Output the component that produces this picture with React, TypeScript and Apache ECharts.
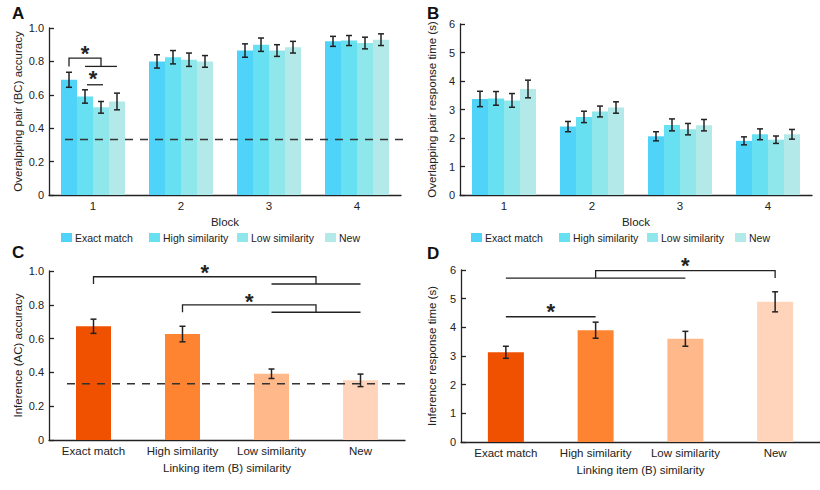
import React, { useEffect, useRef } from 'react';
import * as echarts from 'echarts';

const blocks = ['1', '2', '3', '4'];
const conditions = ['Exact match', 'High similarity', 'Low similarity', 'New'];
const blueColors = ['#4fd3f9', '#67e0f2', '#8fe7eb', '#b4e9e9'];
const orangeColors = ['#f05100', '#ff8432', '#ffb88a', '#ffd4ba'];
const chanceLevel = 0.333;

// Panel A: overlapping pair (BC) accuracy, per condition across blocks
const accExact = [0.69, 0.80, 0.865, 0.92];
const accHigh = [0.59, 0.825, 0.90, 0.925];
const accLow = [0.525, 0.81, 0.865, 0.91];
const accNew = [0.56, 0.80, 0.885, 0.93];
const accErrExact = [0.045, 0.04, 0.04, 0.03];
const accErrHigh = [0.04, 0.04, 0.04, 0.03];
const accErrLow = [0.035, 0.04, 0.035, 0.035];
const accErrNew = [0.05, 0.035, 0.035, 0.035];

// Panel B: overlapping pair response time (s)
const rtExact = [3.37, 2.40, 2.06, 1.90];
const rtHigh = [3.39, 2.74, 2.46, 2.13];
const rtLow = [3.32, 2.93, 2.31, 1.94];
const rtNew = [3.72, 3.07, 2.45, 2.13];
const rtErrExact = [0.27, 0.18, 0.16, 0.14];
const rtErrHigh = [0.24, 0.2, 0.21, 0.19];
const rtErrLow = [0.24, 0.19, 0.2, 0.13];
const rtErrNew = [0.31, 0.2, 0.2, 0.17];

// Panel C: inference (AC) accuracy
const infAcc = [0.673, 0.627, 0.392, 0.353];
const infAccErr = [0.042, 0.046, 0.028, 0.037];

// Panel D: inference response time (s)
const infRt = [3.13, 3.90, 3.60, 4.89];
const infRtErr = [0.21, 0.28, 0.26, 0.35];

const FONT = '"Liberation Sans", Arial, Helvetica, sans-serif';
const INK = '#222';

const makeErr = (offset: number, cap: number) => (params: any, api: any) => {
  const c = api.value(0);
  const p1 = api.coord([c, api.value(1)]);
  const p2 = api.coord([c, api.value(2)]);
  const x = p1[0] + offset;
  const style = { stroke: INK, lineWidth: 1.5 };
  return {
    type: 'group',
    children: [
      { type: 'line', shape: { x1: x, y1: p1[1], x2: x, y2: p2[1] }, style },
      { type: 'line', shape: { x1: x - cap, y1: p1[1], x2: x + cap, y2: p1[1] }, style },
      { type: 'line', shape: { x1: x - cap, y1: p2[1], x2: x + cap, y2: p2[1] }, style },
    ],
  };
};

const fmtDec = (v: number) => (v === 0 ? '0' : v.toFixed(1));

export default function App() {
  const ref = useRef<HTMLDivElement>(null);
  useEffect(() => {
    if (!ref.current) return;
    const chart = echarts.init(ref.current, undefined, { renderer: 'svg' });

    const accA = [accExact, accHigh, accLow, accNew];
    const errA = [accErrExact, accErrHigh, accErrLow, accErrNew];
    const rtB = [rtExact, rtHigh, rtLow, rtNew];
    const errB = [rtErrExact, rtErrHigh, rtErrLow, rtErrNew];

    const axisLine = { show: true, lineStyle: { color: INK, width: 1.3 } };
    const xAxisBase = (gridIndex: number, data: string[], name: string, nameGap: number, fs: number) => ({
      type: 'category',
      gridIndex,
      data,
      name,
      nameLocation: 'middle',
      nameGap,
      nameTextStyle: { fontSize: 11.5, color: '#222', fontFamily: FONT },
      axisLine,
      axisTick: { show: false },
      axisLabel: { fontSize: fs, color: '#222', margin: 5, fontFamily: FONT, interval: 0, hideOverlap: false },
    });
    const yAxisBase = (gridIndex: number, max: number, interval: number, name: string, nameGap: number, fmt: any) => ({
      type: 'value',
      gridIndex,
      min: 0,
      max,
      interval,
      name,
      nameLocation: 'middle',
      nameGap,
      nameTextStyle: { fontSize: 11.5, color: '#222', fontFamily: FONT },
      axisLine,
      axisTick: { show: true, inside: true, length: 5, lineStyle: { color: INK, width: 1.3 } },
      splitLine: { show: false },
      axisLabel: { fontSize: 11, color: '#222', margin: 5, formatter: fmt, fontFamily: FONT },
    });

    const series: any[] = [];
    for (let i = 0; i < 4; i++) {
      series.push({
        name: conditions[i], type: 'bar', xAxisIndex: 0, yAxisIndex: 0,
        data: accA[i], barWidth: 16, barGap: '0%', itemStyle: { color: blueColors[i] },
      });
      series.push({
        name: conditions[i], type: 'bar', xAxisIndex: 1, yAxisIndex: 1,
        data: rtB[i], barWidth: 16, barGap: '0%', itemStyle: { color: blueColors[i] },
      });
    }
    for (let i = 0; i < 4; i++) {
      const off = (i - 1.5) * 16;
      series.push({
        type: 'custom', xAxisIndex: 0, yAxisIndex: 0, z: 5, silent: true,
        renderItem: makeErr(off, 3), encode: { x: 0, y: [1, 2] },
        data: accA[i].map((v, j) => [j, v - errA[i][j], v + errA[i][j]]),
      });
      series.push({
        type: 'custom', xAxisIndex: 1, yAxisIndex: 1, z: 5, silent: true,
        renderItem: makeErr(off, 3), encode: { x: 0, y: [1, 2] },
        data: rtB[i].map((v, j) => [j, v - errB[i][j], v + errB[i][j]]),
      });
    }
    series.push({
      name: 'Inference accuracy', type: 'bar', xAxisIndex: 2, yAxisIndex: 2, barWidth: 35,
      data: infAcc.map((v, i) => ({ value: v, itemStyle: { color: orangeColors[i] } })),
    });
    series.push({
      type: 'custom', xAxisIndex: 2, yAxisIndex: 2, z: 5, silent: true,
      renderItem: makeErr(0, 3), encode: { x: 0, y: [1, 2] },
      data: infAcc.map((v, j) => [j, v - infAccErr[j], v + infAccErr[j]]),
    });
    series.push({
      name: 'Inference RT', type: 'bar', xAxisIndex: 3, yAxisIndex: 3, barWidth: 36,
      data: infRt.map((v, i) => ({ value: v, itemStyle: { color: orangeColors[i] } })),
    });
    series.push({
      type: 'custom', xAxisIndex: 3, yAxisIndex: 3, z: 5, silent: true,
      renderItem: makeErr(0, 3), encode: { x: 0, y: [1, 2] },
      data: infRt.map((v, j) => [j, v - infRtErr[j], v + infRtErr[j]]),
    });

    const legends: any[] = [];
    [61, 471].forEach((start) => {
      conditions.forEach((c, i) => {
        legends.push({
          data: [c],
          left: start + 88 * i,
          top: 232,
          itemWidth: 11,
          itemHeight: 9,
          itemGap: 0,
          padding: 0,
          icon: 'rect',
          selectedMode: false,
          textStyle: { fontSize: 10.5, color: '#222', fontFamily: FONT, padding: [0, 0, 0, -2] },
        });
      });
    });

    chart.setOption({
      animation: false,
      textStyle: { fontFamily: FONT },
      grid: [
        { left: 49, top: 28, width: 352, height: 167 },
        { left: 460, top: 24, width: 352, height: 171 },
        { left: 49, top: 271, width: 356, height: 169 },
        { left: 461, top: 270, width: 362, height: 172 },
      ],
      legend: legends,
      xAxis: [
        xAxisBase(0, blocks, 'Block', 21, 11.5),
        xAxisBase(1, blocks, 'Block', 21, 11.5),
        xAxisBase(2, conditions, 'Linking item (B) similarity', 22, 11.5),
        xAxisBase(3, conditions, 'Linking item (B) similarity', 22, 11.5),
      ],
      yAxis: [
        yAxisBase(0, 1, 0.2, 'Overalpping pair (BC) accuracy', 25, fmtDec),
        yAxisBase(1, 6, 1, 'Overlapping pair response time (s)', 22, undefined),
        yAxisBase(2, 1, 0.2, 'Inference (AC) accuracy', 25, fmtDec),
        yAxisBase(3, 6, 1, 'Inference response time (s)', 23, undefined),
      ],
      series,
    });

    const P = (g: number, cat: number, y: number) => chart.convertToPixel({ gridIndex: g } as any, [cat, y]) as number[];
    const lineStyle = { stroke: INK, lineWidth: 1.3, fill: 'none' };
    const poly = (pts: number[][]) => ({ type: 'polyline', shape: { points: pts }, style: lineStyle, z: 10 });
    const star = (x: number, y: number) => ({
      type: 'text', z: 10,
      style: { text: '*', x, y, font: `bold 22px ${FONT}`, fill: INK, align: 'center', verticalAlign: 'middle' },
    });
    const letter = (t: string, x: number, y: number) => ({
      type: 'text', z: 10,
      style: { text: t, x, y, font: `bold 17px ${FONT}`, fill: '#111', align: 'left', verticalAlign: 'top' },
    });

    const graphic: any[] = [];
    // Panel A brackets (within block 1)
    const a0 = P(0, 0, 0)[0];
    const yA = (v: number) => P(0, 0, v)[1];
    graphic.push(poly([[a0 - 24, yA(0.77)], [a0 - 24, yA(0.82)], [a0 + 8, yA(0.82)], [a0 + 8, yA(0.77)]]));
    graphic.push(poly([[a0 - 8, yA(0.77)], [a0 + 24, yA(0.77)]]));
    graphic.push(star(a0 - 8, yA(0.845)));
    graphic.push(poly([[a0 - 6, yA(0.66)], [a0 + 10, yA(0.66)]]));
    graphic.push(star(a0, yA(0.695)));
    // chance lines
    const gA = P(0, 0, chanceLevel);
    graphic.push({ type: 'line', z: 10, shape: { x1: 65, y1: gA[1], x2: 405, y2: gA[1] }, style: { stroke: '#333', lineWidth: 1.5, lineDash: [8, 7] } });
    const gC = P(2, 0, chanceLevel);
    graphic.push({ type: 'line', z: 10, shape: { x1: 67, y1: gC[1], x2: 405, y2: gC[1] }, style: { stroke: '#333', lineWidth: 1.5, lineDash: [8, 7] } });

    // Panel C brackets
    const cx = [0, 1, 2, 3].map((i) => P(2, i, 0)[0]);
    const yC = (v: number) => P(2, 0, v)[1];
    const cMid = (cx[2] + cx[3]) / 2;
    graphic.push(poly([[cx[0], yC(0.923)], [cx[0], yC(0.966)], [cMid, yC(0.966)], [cMid, yC(0.923)]]));
    graphic.push(poly([[cx[2], yC(0.923)], [cx[3], yC(0.923)]]));
    graphic.push(star((cx[0] + cMid) / 2, yC(0.99)));
    graphic.push(poly([[cx[1], yC(0.756)], [cx[1], yC(0.799)], [cMid, yC(0.799)], [cMid, yC(0.756)]]));
    graphic.push(poly([[cx[2], yC(0.756)], [cx[3], yC(0.756)]]));
    graphic.push(star((cx[1] + cMid) / 2, yC(0.82)));

    // Panel D brackets
    const dx = [0, 1, 2, 3].map((i) => P(3, i, 0)[0]);
    const yD = (v: number) => P(3, 0, v)[1];
    graphic.push(poly([[dx[0], yD(5.72)], [dx[2], yD(5.72)]]));
    graphic.push(poly([[dx[1], yD(5.72)], [dx[1], yD(5.98)], [dx[3], yD(5.98)], [dx[3], yD(5.72)]]));
    graphic.push(star((dx[1] + dx[3]) / 2, yD(6.15)));
    graphic.push(poly([[dx[0], yD(4.37)], [dx[1], yD(4.37)]]));
    graphic.push(star((dx[0] + dx[1]) / 2, yD(4.55)));

    graphic.push(letter('A', 12, 5));
    graphic.push(letter('B', 427, 5));
    graphic.push(letter('C', 12, 244));
    graphic.push(letter('D', 427, 245));

    chart.setOption({ graphic });

    return () => chart.dispose();
  }, []);
  return <div ref={ref} style={{ position: 'absolute', left: 0, top: 0, width: 820, height: 490 }} />;
}
